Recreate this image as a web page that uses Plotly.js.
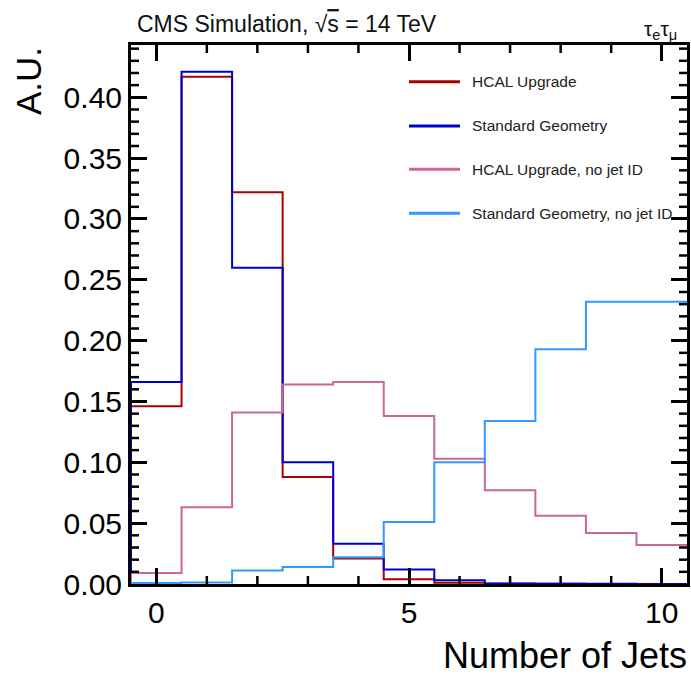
<!DOCTYPE html>
<html>
<head>
<meta charset="utf-8">
<script src="https://cdn.plot.ly/plotly-3.0.1.min.js"></script>
<style>
  html, body { margin: 0; padding: 0; background: #fff; }
  #chart { width: 691px; height: 675px; }
</style>
</head>
<body>
<div id="chart"></div>
<script>
// Number of jets (bin centres)
const nJets = [0, 1, 2, 3, 4, 5, 6, 7, 8, 9, 10];

// Normalised fractions (A.U.) per bin
const hcalUpgrade        = [0.146, 0.417, 0.322, 0.088, 0.021, 0.004, 0.001, 0.0003, 0.0002, 0.0001, 0.0001];
const standardGeometry   = [0.166, 0.421, 0.260, 0.100, 0.033, 0.012, 0.003, 0.0005, 0.0003, 0.0002, 0.0001];
const hcalUpgradeNoJetID = [0.009, 0.063, 0.141, 0.164, 0.166, 0.138, 0.103, 0.077, 0.056, 0.042, 0.032];
const stdGeomNoJetID     = [0.0008, 0.0012, 0.011, 0.014, 0.022, 0.051, 0.100, 0.134, 0.193, 0.232, 0.232];

const seriesNames  = ["HCAL Upgrade", "Standard Geometry", "HCAL Upgrade, no jet ID", "Standard Geometry, no jet ID"];
const seriesValues = [hcalUpgrade, standardGeometry, hcalUpgradeNoJetID, stdGeomNoJetID];
const seriesColors = ["#aa0000", "#0000cc", "#cc6699", "#3399ff"];

// minor tick positions (ROOT style, on all four sides)
const xMinorTicks = [1, 2, 3, 4, 6, 7, 8, 9];
const yMinorTicks = [0.01, 0.02, 0.03, 0.04, 0.06, 0.07, 0.08, 0.09, 0.11, 0.12, 0.13, 0.14,
                     0.16, 0.17, 0.18, 0.19, 0.21, 0.22, 0.23, 0.24, 0.26, 0.27, 0.28, 0.29,
                     0.31, 0.32, 0.33, 0.34, 0.36, 0.37, 0.38, 0.39, 0.41, 0.42, 0.43, 0.44];

const FONT = "Liberation Sans, Arial, Helvetica, sans-serif";
const X_RANGE = [-0.5, 10.5];
const Y_RANGE = [0, 0.443];

// bin edges from the bin centres
const edges = [nJets[0] - 0.5].concat(nJets.map(v => v + 0.5));

const traces = seriesValues.map((vals, i) => ({
  type: "scatter",
  mode: "lines",
  name: seriesNames[i],
  x: edges,
  y: [0].concat(vals),
  line: { shape: "vh", color: seriesColors[i], width: 2 },
  showlegend: false
}));

const plotTop = 45, plotH = 539, plotL = 131, plotW = 556;
const pxToPaperX = px => (px - plotL) / plotW;
const pxToPaperY = py => (plotTop + plotH - py) / plotH;

// minor tick marks: position on the axis scale, length as a fraction of the plot area
const tickShapes = [];
xMinorTicks.forEach(v => {
  const f = 8 / plotH;
  [[0, f], [1, 1 - f]].forEach(([a, b]) => tickShapes.push({
    type: "line", xref: "x", yref: "paper", x0: v, x1: v, y0: a, y1: b, layer: "above",
    line: { color: "#000000", width: 2.5 }
  }));
});
yMinorTicks.forEach(v => {
  const f = 8 / plotW;
  [[0, f], [1, 1 - f]].forEach(([a, b]) => tickShapes.push({
    type: "line", xref: "paper", yref: "y", x0: a, x1: b, y0: v, y1: v, layer: "above",
    line: { color: "#000000", width: 2.5 }
  }));
});

// hand-placed legend (long line samples as in the reference)
const legendRowsPx = [81.7, 126, 169.3, 213.3];
const legendShapes = seriesNames.map((n, i) => ({
  type: "line", xref: "paper", yref: "paper",
  x0: pxToPaperX(409), x1: pxToPaperX(460),
  y0: pxToPaperY(legendRowsPx[i]), y1: pxToPaperY(legendRowsPx[i]),
  line: { color: seriesColors[i], width: 3 }
}));
const legendTexts = seriesNames.map((n, i) => ({
  text: n, xref: "paper", yref: "paper",
  x: pxToPaperX(470), y: pxToPaperY(legendRowsPx[i]),
  xanchor: "left", yanchor: "middle", showarrow: false,
  font: { family: FONT, size: 15.5, color: "#222222" }
}));

const layout = {
  width: 691, height: 675,
  margin: { l: plotL, r: 691 - plotL - plotW, t: plotTop, b: 675 - plotTop - plotH, pad: 0 },
  paper_bgcolor: "#ffffff", plot_bgcolor: "#ffffff",
  font: { family: FONT, color: "#000000" },
  showlegend: false,
  xaxis: {
    range: X_RANGE, dtick: 5, tick0: 0,
    ticks: "inside", ticklen: 16, tickwidth: 3, tickcolor: "#000",
    showline: true, linewidth: 3, linecolor: "#000", mirror: "ticks",
    showgrid: false, zeroline: false,
    tickfont: { family: FONT, size: 30 }
  },
  yaxis: {
    range: Y_RANGE, dtick: 0.05, tick0: 0, tickformat: ".2f",
    ticks: "inside", ticklen: 16, tickwidth: 3, tickcolor: "#000",
    showline: true, linewidth: 3, linecolor: "#000", mirror: "ticks",
    showgrid: false, zeroline: false,
    tickfont: { family: FONT, size: 30 }
  },
  shapes: tickShapes.concat(legendShapes)
};

const textLayer = {
  title: {
    text: "CMS Simulation, √<span style=\"text-decoration:overline\">s</span> = 14 TeV",
    x: 137 / 691, xanchor: "left", xref: "container",
    y: 1 - 24 / 675, yanchor: "middle", yref: "container",
    font: { family: FONT, size: 23, color: "#111111" }
  },
  annotations: [
    {
      text: "A.U.", textangle: -90,
      xref: "paper", yref: "paper",
      x: pxToPaperX(28), y: pxToPaperY(45), xanchor: "center", yanchor: "top",
      showarrow: false,
      font: { family: FONT, size: 35, color: "#000" }
    },
    {
      text: "Number of Jets",
      xref: "paper", yref: "paper",
      x: 1.003, y: pxToPaperY(655), xanchor: "right", yanchor: "middle",
      showarrow: false,
      font: { family: FONT, size: 36, color: "#000" }
    },
    {
      text: "τ<sub>e</sub>τ<sub>μ</sub>",
      xref: "paper", yref: "paper",
      x: pxToPaperX(679), y: 1.0, xanchor: "right", yanchor: "bottom",
      yshift: 0,
      showarrow: false,
      font: { family: FONT, size: 21, color: "#111" }
    }
  ].concat(legendTexts)
};

Plotly.newPlot("chart", traces, layout, { displayModeBar: false })
  .then(gd => Plotly.relayout(gd, textLayer));
</script>
</body>
</html>
